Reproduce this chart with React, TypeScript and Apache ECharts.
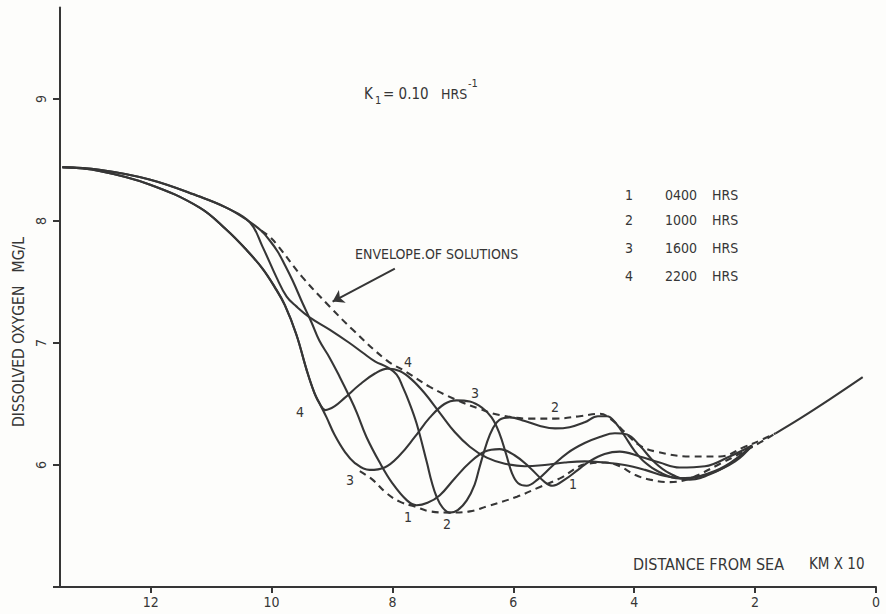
import React, { useEffect, useRef } from "react";
import * as echarts from "echarts";

// x: distance from sea (km x 10), y: dissolved oxygen (mg/L)
const curve1 = [
  [13.46, 8.44], [12.85, 8.42], [12.02, 8.34], [11.19, 8.2], [10.75, 8.11], [10.41, 8.01],
  [10.17, 7.92], [10.03, 7.84], [9.9, 7.75], [9.78, 7.64], [9.65, 7.51], [9.49, 7.33],
  [9.34, 7.17], [9.21, 7.02], [9.04, 6.88], [8.87, 6.72], [8.71, 6.56], [8.59, 6.43],
  [8.43, 6.23], [8.21, 6.02], [8.0, 5.85], [7.76, 5.71], [7.6, 5.67], [7.42, 5.69],
  [7.22, 5.75], [6.97, 5.89], [6.72, 6.02], [6.47, 6.11], [6.23, 6.13], [5.98, 6.08],
  [5.73, 5.98], [5.48, 5.86], [5.35, 5.83], [5.15, 5.88], [4.93, 5.96], [4.74, 6.03],
  [4.49, 6.09], [4.24, 6.11], [3.91, 6.07], [3.58, 6.02], [3.25, 5.98], [2.83, 5.99],
  [2.42, 6.07], [2.05, 6.16],
];
const curve2 = [
  [13.46, 8.44], [12.85, 8.42], [12.02, 8.34], [11.19, 8.2], [10.75, 8.11], [10.36, 7.99],
  [10.15, 7.79], [9.92, 7.54], [9.75, 7.38], [9.59, 7.3], [9.37, 7.21], [9.04, 7.11],
  [8.71, 7.0], [8.49, 6.92], [8.29, 6.85], [8.08, 6.8], [7.93, 6.74], [7.83, 6.64],
  [7.72, 6.51], [7.6, 6.34], [7.43, 6.02], [7.35, 5.86], [7.27, 5.74], [7.17, 5.65],
  [7.05, 5.61], [6.92, 5.63], [6.77, 5.71], [6.64, 5.84], [6.56, 5.98], [6.44, 6.18],
  [6.34, 6.3], [6.23, 6.37], [6.06, 6.39], [5.81, 6.36], [5.56, 6.32], [5.31, 6.3],
  [5.07, 6.31], [4.82, 6.35], [4.6, 6.4], [4.45, 6.4], [4.3, 6.34], [4.16, 6.24],
  [4.0, 6.12], [3.82, 6.02], [3.58, 5.94], [3.25, 5.89], [2.91, 5.91], [2.5, 5.99],
  [2.05, 6.16],
];
const curve3 = [
  [13.46, 8.44], [12.85, 8.41], [12.02, 8.3], [11.19, 8.11], [10.75, 7.93], [10.41, 7.76],
  [10.15, 7.61], [9.95, 7.46], [9.78, 7.31], [9.59, 7.07], [9.42, 6.78], [9.29, 6.59],
  [9.19, 6.49], [9.09, 6.39], [8.96, 6.25], [8.79, 6.11], [8.63, 6.02], [8.38, 5.96],
  [8.13, 5.98], [7.88, 6.08], [7.63, 6.23], [7.38, 6.39], [7.14, 6.5], [6.94, 6.53],
  [6.72, 6.52], [6.52, 6.47], [6.36, 6.39], [6.23, 6.26], [6.12, 6.09], [6.02, 5.93],
  [5.92, 5.85], [5.78, 5.83], [5.6, 5.88], [5.36, 5.99], [5.1, 6.1], [4.82, 6.18],
  [4.57, 6.23], [4.32, 6.26], [4.12, 6.25], [3.91, 6.16], [3.66, 6.02], [3.41, 5.93],
  [3.08, 5.88], [2.67, 5.94], [2.33, 6.04], [2.05, 6.16],
];
const curve4 = [
  [13.46, 8.44], [12.85, 8.41], [12.02, 8.3], [11.19, 8.11], [10.75, 7.93], [10.41, 7.76],
  [10.15, 7.61], [9.95, 7.46], [9.78, 7.31], [9.59, 7.07], [9.42, 6.78], [9.29, 6.59],
  [9.19, 6.49], [9.11, 6.45], [8.96, 6.48], [8.79, 6.55], [8.54, 6.66], [8.29, 6.75],
  [8.08, 6.79], [7.88, 6.77], [7.68, 6.7], [7.47, 6.59], [7.22, 6.43], [6.97, 6.27],
  [6.72, 6.15], [6.44, 6.06], [6.14, 6.01], [5.81, 5.99], [5.48, 6.0], [5.15, 6.02],
  [4.82, 6.03], [4.49, 6.02], [4.16, 6.0], [3.82, 5.96], [3.49, 5.91], [3.16, 5.89],
  [2.75, 5.93], [2.33, 6.03], [2.05, 6.16],
];
const upperEnvelope = [
  [10.17, 7.92], [10.03, 7.87], [9.9, 7.8], [9.49, 7.54], [9.04, 7.3], [8.66, 7.11],
  [8.1, 6.86], [7.76, 6.76], [7.38, 6.64], [6.97, 6.54], [6.56, 6.46], [6.23, 6.41],
  [5.73, 6.38], [5.31, 6.38], [4.9, 6.4], [4.57, 6.42], [4.37, 6.37], [4.16, 6.27],
  [3.91, 6.16], [3.64, 6.11], [3.08, 6.07], [2.58, 6.07], [2.17, 6.15], [1.92, 6.2],
  [1.66, 6.26],
];
const lowerEnvelope = [
  [8.54, 5.95], [8.33, 5.88], [8.1, 5.77], [7.88, 5.7], [7.63, 5.66], [7.38, 5.62],
  [7.05, 5.61], [6.72, 5.62], [6.44, 5.66], [5.94, 5.74], [5.56, 5.82], [5.23, 5.89],
  [4.78, 6.01], [4.47, 6.02], [4.24, 5.99], [3.99, 5.92], [3.74, 5.88], [3.41, 5.86],
  [3.08, 5.89], [2.58, 6.01], [2.04, 6.15], [1.66, 6.26],
];
const commonTail = [[1.66, 6.26], [1.26, 6.38], [0.76, 6.54], [0.22, 6.72]];
const arrowFrom = [7.96, 7.61];
const arrowTo = [8.99, 7.34];

const xTicks = [0, 2, 4, 6, 8, 10, 12];
const yTicks = [6, 7, 8, 9];
const legendRows = [
  ["1", "0400", "HRS"],
  ["2", "1000", "HRS"],
  ["3", "1600", "HRS"],
  ["4", "2200", "HRS"],
];

const INK = "#363636";
const FONT = "'DejaVu Sans Condensed', 'Liberation Sans Narrow', 'DejaVu Sans', sans-serif";

export default function App() {
  const ref = useRef<HTMLDivElement>(null);
  useEffect(() => {
    if (!ref.current) return;
    const chart = echarts.init(ref.current, undefined, { renderer: "svg" });
    const solid = (name: string, data: number[][]) => ({
      name,
      type: "line",
      data,
      smooth: 0.4,
      showSymbol: false,
      symbol: "none",
      silent: true,
      lineStyle: { color: INK, width: 2.1 },
      z: 3,
    });
    const dashed = (name: string, data: number[][], extra: any = {}) => ({
      name,
      type: "line",
      data,
      smooth: 0.4,
      showSymbol: false,
      symbol: "none",
      silent: true,
      lineStyle: { color: INK, width: 2.1, type: [7, 5] },
      z: 2,
      ...extra,
    });
    const text = (t: string, x: number, y: number, size = 14, extra: any = {}) => ({
      type: "text",
      x,
      y,
      silent: true,
      style: {
        text: t,
        fontSize: size,
        fontFamily: FONT,
        fill: INK,
        align: "left",
        verticalAlign: "middle",
      },
      ...extra,
    });
    const legendGraphics: any[] = [];
    const rowY = [195, 220, 248, 276];
    legendRows.forEach((r, i) => {
      legendGraphics.push(text(r[0], 625, rowY[i], 14));
      legendGraphics.push(text(r[1], 665, rowY[i], 14));
      legendGraphics.push(text(r[2], 712, rowY[i], 14));
    });
    chart.setOption({
      animation: false,
      backgroundColor: "#fdfdfb",
      grid: { left: 60, right: 10, top: 7.5, bottom: 27, containLabel: false },
      xAxis: {
        type: "value",
        inverse: true,
        min: 0,
        max: 13.5,
        interval: 2,
        axisLine: { show: true, onZero: false, lineStyle: { color: INK, width: 2 } },
        axisTick: { show: true, length: 6, lineStyle: { color: INK, width: 2 } },
        axisLabel: {
          color: INK,
          fontSize: 14,
          fontFamily: FONT,
          margin: 8,
          showMaxLabel: false,
          formatter: (v: number) => (xTicks.includes(v) ? String(v) : ""),
        },
        splitLine: { show: false },
      },
      yAxis: {
        type: "value",
        min: 5,
        max: 9.75,
        interval: 1,
        axisLine: { show: true, onZero: false, lineStyle: { color: INK, width: 2 } },
        axisTick: { show: true, length: 7, lineStyle: { color: INK, width: 2 } },
        axisLabel: {
          color: INK,
          fontSize: 14,
          fontFamily: FONT,
          rotate: 90,
          margin: 12,
          showMaxLabel: false,
          formatter: (v: number) => (yTicks.includes(v) ? String(v) : ""),
        },
        splitLine: { show: false },
      },
      series: [
        solid("1", curve1),
        solid("2", curve2),
        solid("3", curve3),
        solid("4", curve4),
        dashed("upper", upperEnvelope, {
          markLine: {
            silent: true,
            symbol: ["none", "arrow"],
            symbolSize: 11,
            label: { show: false },
            lineStyle: { color: INK, width: 2, type: "solid" },
            data: [[{ coord: arrowFrom }, { coord: arrowTo }]],
          },
        }),
        dashed("lower", lowerEnvelope),
        solid("tail", commonTail),
      ],
      graphic: [
        text("K", 364, 94, 15),
        text("1", 375, 100, 11),
        text("= 0.10", 383, 94, 15),
        text("HRS", 441, 94, 14),
        text("-1", 468, 83, 11),
        text("ENVELOPE.OF SOLUTIONS", 355, 254, 14),
        text("DISTANCE FROM SEA", 633, 564, 16),
        text("KM X 10", 809, 564, 15),
        text("DISSOLVED OXYGEN   MG/L", 19, 332, 15, {
          rotation: Math.PI / 2,
          style: {
            text: "DISSOLVED OXYGEN   MG/L",
            fontSize: 15.5,
            fontFamily: FONT,
            fill: INK,
            align: "center",
            verticalAlign: "middle",
          },
        }),
        text("4", 296, 412, 14),
        text("4", 404, 362, 14),
        text("3", 346, 480, 14),
        text("3", 471, 393, 14),
        text("1", 404, 517, 14),
        text("2", 443, 524, 14),
        text("2", 551, 407, 14),
        text("1", 569, 484, 14),
        ...legendGraphics,
      ],
    });
    return () => chart.dispose();
  }, []);
  return (
    <div
      ref={ref}
      style={{ position: "fixed", left: 0, top: 0, width: 886, height: 614 }}
    />
  );
}
